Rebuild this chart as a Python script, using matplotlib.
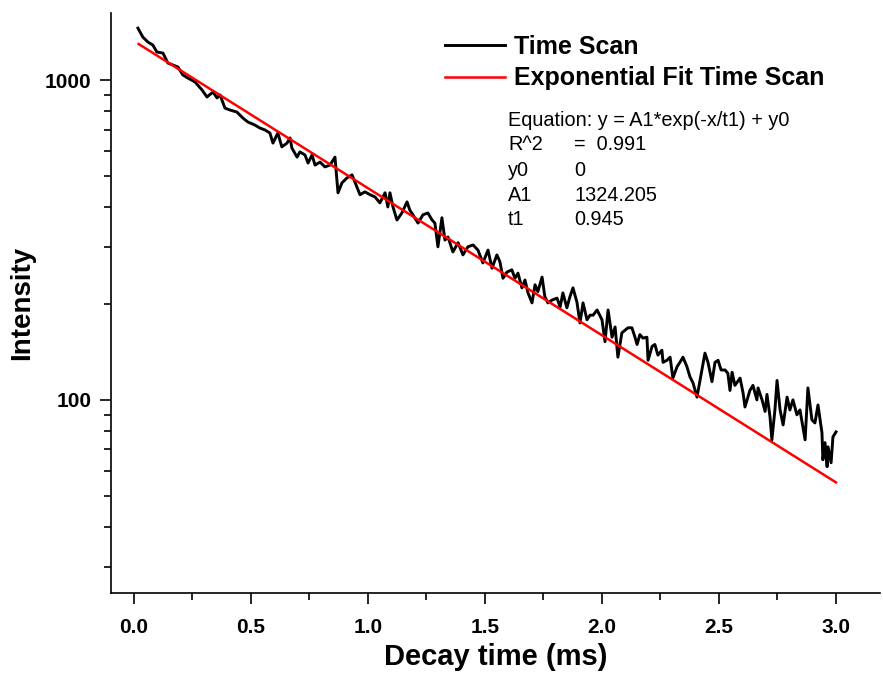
import numpy as np
import matplotlib.pyplot as plt
from matplotlib.ticker import LogLocator, MultipleLocator, NullFormatter

# --- Estilo ---
plt.rcParams.update({
    "font.family": ["Liberation Sans", "DejaVu Sans"],
    "font.weight": "bold",
    "axes.linewidth": 1.2,
    "xtick.major.width": 1.2,
    "ytick.major.width": 1.2,
    "xtick.minor.width": 1.2,
    "ytick.minor.width": 1.2,
})

# --- Dados ---
decay_time = [
    0.017, 0.038, 0.060, 0.081, 0.098, 0.124, 0.145, 0.167, 0.188, 0.209,
    0.231, 0.261, 0.291, 0.312, 0.338, 0.355, 0.368, 0.389, 0.410, 0.440,
    0.466, 0.487, 0.517, 0.538, 0.560, 0.581, 0.594, 0.615, 0.632, 0.654,
    0.667, 0.675, 0.697, 0.709, 0.731, 0.744, 0.761, 0.774, 0.795, 0.816,
    0.838, 0.859, 0.872, 0.889, 0.910, 0.932, 0.953, 0.966, 0.987, 1.009,
    1.030, 1.051, 1.073, 1.085, 1.094, 1.107, 1.124, 1.145, 1.167, 1.179,
    1.192, 1.214, 1.235, 1.256, 1.274, 1.286, 1.299, 1.316, 1.329, 1.342,
    1.363, 1.385, 1.406, 1.427, 1.449, 1.470, 1.491, 1.513, 1.530, 1.543,
    1.551, 1.564, 1.577, 1.594, 1.615, 1.628, 1.641, 1.658, 1.671, 1.684,
    1.701, 1.714, 1.726, 1.744, 1.756, 1.769, 1.786, 1.808, 1.821, 1.833,
    1.850, 1.863, 1.876, 1.893, 1.906, 1.919, 1.936, 1.949, 1.962, 1.979,
    2.000, 2.013, 2.026, 2.043, 2.056, 2.068, 2.085, 2.111, 2.128, 2.141,
    2.150, 2.162, 2.175, 2.192, 2.197, 2.214, 2.226, 2.239, 2.256, 2.261,
    2.278, 2.291, 2.303, 2.321, 2.333, 2.346, 2.363, 2.376, 2.389, 2.406,
    2.419, 2.440, 2.453, 2.470, 2.483, 2.496, 2.509, 2.526, 2.538, 2.547,
    2.556, 2.568, 2.590, 2.603, 2.611, 2.632, 2.645, 2.662, 2.667, 2.684,
    2.697, 2.705, 2.718, 2.726, 2.739, 2.748, 2.761, 2.774, 2.791, 2.803,
    2.816, 2.833, 2.846, 2.868, 2.880, 2.897, 2.910, 2.923, 2.940, 2.944,
    2.953, 2.962, 2.966, 2.979, 2.987, 3.000,
]
intensity = [
    1453, 1362, 1314, 1286, 1223, 1214, 1130, 1114, 1098, 1037,
    1014, 986, 931, 885, 917, 879, 898, 817, 806, 794,
    760, 739, 723, 708, 698, 683, 635, 683, 618, 635,
    659, 613, 574, 596, 583, 550, 583, 542, 554, 535,
    542, 574, 444, 477, 494, 505, 463, 438, 447, 438,
    431, 413, 444, 401, 444, 401, 365, 384, 416, 392,
    379, 357, 379, 384, 365, 357, 301, 371, 316, 323,
    290, 310, 284, 301, 305, 294, 268, 294, 258, 274,
    284, 270, 240, 251, 255, 240, 249, 224, 237, 216,
    201, 229, 218, 242, 210, 201, 205, 208, 195, 216,
    194, 210, 224, 202, 174, 201, 178, 184, 184, 191,
    178, 152, 191, 157, 169, 136, 162, 168, 168, 157,
    149, 160, 156, 157, 133, 147, 149, 138, 143, 131,
    133, 136, 117, 127, 131, 136, 127, 118, 113, 102,
    115, 140, 131, 114, 131, 133, 124, 124, 121, 107,
    122, 111, 117, 105, 95, 107, 111, 100, 109, 100,
    92, 104, 88.5, 75, 93, 115, 93, 83.5, 102, 93,
    100, 89.8, 93, 75, 109, 86.6, 84.7, 96.4, 78.9, 65,
    73.5, 61.8, 71.3, 63.6, 76.6, 79.4,
]

# Ajuste exponencial (reta em escala log): extremos lidos
fit_time = [0.02, 3.0]
fit_intensity = [1296, 55.2]

fit_params = [
    ("Equation: y = A1*exp(-x/t1) + y0", ""),
    ("R^2", "=  0.991"),
    ("y0", "0"),
    ("A1", "1324.205"),
    ("t1", "0.945"),
]

W, H = 883, 673
fig = plt.figure(figsize=(W / 100, H / 100), dpi=100)
ax = fig.add_axes([111 / W, 1 - 593 / H, (880 - 111) / W, (593 - 13) / H])

ax.plot(decay_time, intensity, color="black", linewidth=2.1, label="Time Scan")
ax.plot(fit_time, fit_intensity, color="#ff0000", linewidth=1.8,
        label="Exponential Fit Time Scan")

ax.set_yscale("log")
ax.set_xlim(-0.098, 3.188)
ax.set_ylim(24.9, 1620)

ax.set_xticks([0.0, 0.5, 1.0, 1.5, 2.0, 2.5, 3.0])
ax.set_xticklabels(["0.0", "0.5", "1.0", "1.5", "2.0", "2.5", "3.0"])
ax.xaxis.set_minor_locator(MultipleLocator(0.25))
ax.set_yticks([100, 1000])
ax.set_yticklabels(["100", "1000"])
ax.yaxis.set_minor_locator(LogLocator(base=10, subs=np.arange(2, 10)))
ax.yaxis.set_minor_formatter(NullFormatter())

ax.tick_params(axis="both", which="major", length=8, labelsize=15)
ax.tick_params(axis="x", which="major", pad=10)
ax.tick_params(axis="y", which="major", pad=6)
ax.tick_params(axis="both", which="minor", length=5)
ax.spines["top"].set_visible(False)
ax.spines["right"].set_visible(False)

ax.set_xlabel("Decay time (ms)", fontsize=21, fontweight="bold", labelpad=4)
ax.set_ylabel("Intensity", fontsize=20, fontweight="bold", labelpad=7)

ax.legend(loc="upper left", bbox_to_anchor=(445 / W, 1 - 35 / H),
          bbox_transform=fig.transFigure, frameon=False,
          handlelength=2.4, handletextpad=0.35, labelspacing=0.3,
          borderpad=0, borderaxespad=0,
          prop={"weight": "bold", "size": 18})

# Texto dos parâmetros do ajuste
for i, (name, val) in enumerate(fit_params):
    yy = 1 - (120 + i * 25) / H
    fig.text(508 / W, yy, name, fontsize=14.3, fontweight="normal", va="center")
    if val:
        fig.text(574 / W, yy, val, fontsize=14.3, fontweight="normal", va="center")

fig.savefig("out.png", dpi=100)
